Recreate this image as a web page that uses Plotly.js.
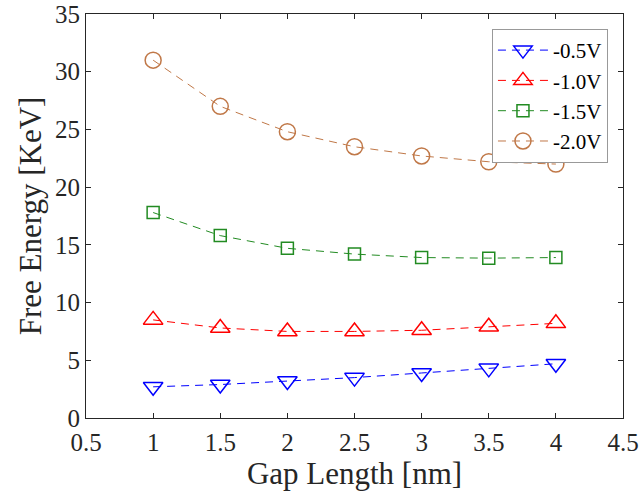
<!DOCTYPE html>
<html>
<head>
<meta charset="utf-8">
<script src="https://cdn.plot.ly/plotly-3.0.1.min.js"></script>
<style>html,body{margin:0;padding:0;background:#fff;}#chart{width:642px;height:499px;}</style>
</head>
<body>
<div id="chart"></div>
<script>
const gapLength = [1, 1.5, 2, 2.5, 3, 3.5, 4];
const seriesNames = ['-0.5V', '-1.0V', '-1.5V', '-2.0V'];
const v05 = [2.7, 2.9, 3.2, 3.5, 3.9, 4.3, 4.7];
const v10 = [8.5, 7.8, 7.5, 7.5, 7.6, 7.9, 8.2];
const v15 = [17.8, 15.8, 14.7, 14.2, 13.9, 13.85, 13.9];
const v20 = [31.0, 27.0, 24.8, 23.5, 22.7, 22.2, 22.0];
const xTicks = [0.5, 1, 1.5, 2, 2.5, 3, 3.5, 4, 4.5];
const yTicks = [0, 5, 10, 15, 20, 25, 30, 35];

const values = [v05, v10, v15, v20];
const colors = ['#0000FF', '#FF0000', '#228B22', '#C07848'];
const symbols = ['triangle-down-open', 'triangle-up-open', 'square-open', 'circle-open'];
const sizes = [17, 17, 12, 16];
const FONT = 'Liberation Serif, Times New Roman, serif';

const traces = values.map((v, i) => ({
  x: gapLength, y: v, name: seriesNames[i], type: 'scatter', mode: 'lines+markers',
  line: {color: colors[i], width: 1, dash: '8px,6px'},
  marker: {symbol: symbols[i], size: sizes[i], color: colors[i], line: {color: colors[i], width: 1.5}}
}));

const axisCommon = {
  showline: true, linecolor: '#262626', linewidth: 1, mirror: 'ticks',
  ticks: 'inside', ticklen: 5, tickcolor: '#262626', showgrid: false, zeroline: false,
  tickfont: {family: FONT, size: 25, color: '#262626'}
};

const layout = {
  width: 642, height: 499,
  margin: {l: 86, r: 19, t: 14, b: 81},
  paper_bgcolor: '#fff', plot_bgcolor: '#fff',
  showlegend: true,
  xaxis: Object.assign({}, axisCommon, {
    range: [0.5, 4.5], tickvals: xTicks, ticktext: xTicks.map(String),
    ticklabelstandoff: 2,
    title: {text: 'Gap Length [nm]', font: {family: FONT, size: 31, color: '#262626'}, standoff: 2}
  }),
  yaxis: Object.assign({}, axisCommon, {
    range: [0, 35], tickvals: yTicks, ticktext: yTicks.map(String),
    title: {text: 'Free Energy [KeV]', font: {family: FONT, size: 31, color: '#262626'}, standoff: 4}
  }),
  legend: {
    x: 0.972, xanchor: 'right', y: 0.963, yanchor: 'top',
    bgcolor: '#fff', bordercolor: '#999', borderwidth: 1,
    font: {family: FONT, size: 21, color: '#000'},
    tracegroupgap: 0, itemwidth: 50
  }
};

Plotly.newPlot('chart', traces, layout, {displayModeBar: false, staticPlot: true});
</script>
</body>
</html>
